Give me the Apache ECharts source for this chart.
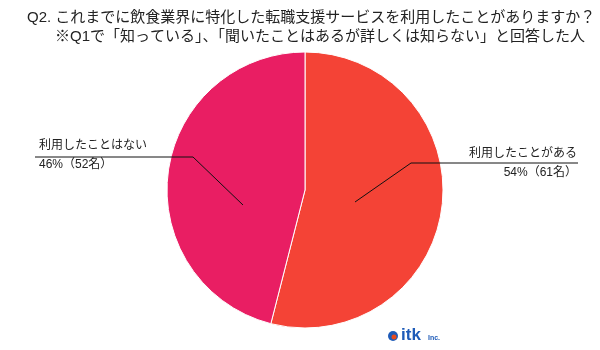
<!DOCTYPE html>
<html><head><meta charset="utf-8">
<script src="https://cdn.jsdelivr.net/npm/echarts@6/dist/echarts.min.js"></script>
<style>html,body{margin:0;padding:0;background:#fff}#c{width:600px;height:350px}</style>
</head><body><div id="c"></div>
<script>
const titleLines = ['Q2. これまでに飲食業界に特化した転職支援サービスを利用したことがありますか？',
  '※Q1で「知っている」、「聞いたことはあるが詳しくは知らない」と回答した人'];
const categories = ['利用したことがある', '利用したことはない'];
const counts = [61, 52];
const colors = ['#F44336', '#E91E63'];

const FONT = '"Liberation Sans", "Noto Sans CJK JP", sans-serif';
const chart = echarts.init(document.getElementById('c'), null, {renderer: 'canvas'});

// label placement (positions only, not data)
const labelLayouts = [
  {x: 577, y: 163.5, align: 'right', pts: [[355, 202], [411, 163], [578, 163]]},
  {x: 39, y: 155.5, align: 'left', pts: [[243, 205], [193, 157], [35, 157]]}
];

const total = counts.reduce((a, b) => a + b, 0);
chart.setOption({
  animation: false,
  backgroundColor: '#fff',
  title: [
    {text: titleLines[0], left: 22, top: 5, textStyle: {fontFamily: FONT, fontSize: 15, fontWeight: 'normal', color: '#222'}},
    {text: titleLines[1], left: 50, top: 24, textStyle: {fontFamily: FONT, fontSize: 15, fontWeight: 'normal', color: '#222'}}
  ],
  series: [{
    type: 'pie',
    center: [305, 190],
    radius: 138,
    startAngle: 90,
    clockwise: true,
    silent: true,
    itemStyle: {borderColor: '#fff', borderWidth: 1},
    data: categories.map((n, i) => ({name: n, value: counts[i], itemStyle: {color: colors[i]}})),
    label: {
      show: true,
      position: 'outside',
      fontFamily: FONT,
      fontSize: 12,
      color: '#222',
      lineHeight: 19,
      overflow: 'none',
      width: 160,
      formatter: p => p.name + '\n' + Math.round(p.value / total * 100) + '%（' + p.value + '名）'
    },
    labelLine: {show: false},
    labelLayout: function (params) {
      const L = labelLayouts[params.dataIndex];
      return {x: L.x, y: L.y, align: L.align, verticalAlign: 'middle'};
    }
  }],
  graphic: labelLayouts.map(L => ({
    type: 'polyline', shape: {points: L.pts}, style: {stroke: '#111', lineWidth: 1, fill: null}, z: 10
  })).concat([
    {type: 'circle', shape: {cx: 393, cy: 336, r: 5}, style: {fill: '#1E5BB8'}},
    {type: 'circle', shape: {cx: 394, cy: 337, r: 2.5}, style: {fill: '#E84B1C'}},
    {type: 'text', x: 401, y: 327, style: {text: 'itk', font: 'bold 17px "Liberation Sans", Arial, sans-serif', fill: '#1E5BB8'}},
    {type: 'text', x: 428, y: 335, style: {text: 'Inc.', font: 'bold 7px "Liberation Sans", Arial, sans-serif', fill: '#1E5BB8'}}
  ])
});
</script></body></html>
